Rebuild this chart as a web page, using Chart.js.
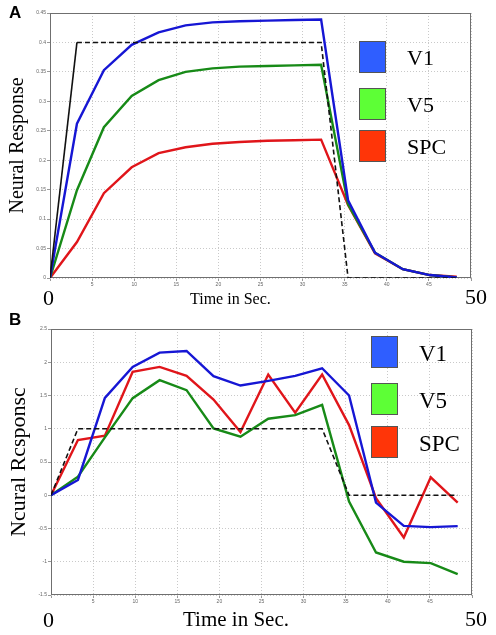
<!DOCTYPE html>
<html>
<head>
<meta charset="utf-8">
<script src="https://cdn.jsdelivr.net/npm/chart.js@4/dist/chart.umd.min.js"></script>
<style>
body { margin: 0; background: #fff; }
#page { position: relative; width: 496px; height: 635px; overflow: hidden; font-family: "Liberation Serif", serif; }
.box { position: absolute; left: 0; width: 496px; }
.t { position: absolute; white-space: nowrap; color: #000; line-height: 1; }
.panel { font-family: "Liberation Sans", Arial, sans-serif; font-weight: bold; font-size: 17px; }
.sw { position: absolute; border: 1px solid #555; box-sizing: border-box; }
</style>
</head>
<body>
<div id="page">
  <div class="box" style="top:0;height:290px"><canvas id="chartA"></canvas></div>
  <div class="box" style="top:300px;height:310px"><canvas id="chartB"></canvas></div>

  <div class="t panel" style="left:9px;top:4px">A</div>
  <div class="t panel" style="left:9px;top:311px">B</div>

  <div class="t" style="left:43px;top:287px;font-size:22px">0</div>
  <div class="t" style="left:190px;top:291px;font-size:16px">Time in Sec.</div>
  <div class="t" style="left:465px;top:286px;font-size:22px">50</div>

  <div class="t" style="left:43px;top:609px;font-size:22px">0</div>
  <div class="t" style="left:183px;top:609px;font-size:21px">Time in Sec.</div>
  <div class="t" style="left:465px;top:608px;font-size:22px">50</div>

  <div id="legA"></div>
  <div id="legB"></div>
</div>
<script>
// time of each sample (s)
var TIME = [0, 3.2, 6.4, 9.7, 12.9, 16.1, 19.3, 22.5, 25.8, 29, 32.2, 35.4, 38.6, 41.9, 45.1, 48.3];
var STIM_TIME = [0, 3.2, 32.2, 35.4, 48.3];
var SERIES = ['V1', 'V5', 'SPC'];

// panel A
var A_V1  = [0, 0.262, 0.353, 0.396, 0.417, 0.429, 0.434, 0.436, 0.437, 0.438, 0.439, 0.132, 0.043, 0.015, 0.005, 0.001];
var A_V5  = [0, 0.149, 0.256, 0.309, 0.336, 0.350, 0.356, 0.359, 0.360, 0.361, 0.362, 0.125, 0.043, 0.015, 0.005, 0.001];
var A_SPC = [0, 0.061, 0.144, 0.188, 0.212, 0.222, 0.228, 0.231, 0.233, 0.234, 0.235, 0.124, 0.042, 0.015, 0.005, 0.002];
var A_STIM = [0, 0.4, 0.4, 0, 0];

// panel B
var B_V1  = [0, 0.23, 1.465, 1.93, 2.145, 2.17, 1.79, 1.65, 1.72, 1.795, 1.91, 1.50, -0.11, -0.46, -0.48, -0.465];
var B_V5  = [0, 0.28, 0.87, 1.46, 1.73, 1.58, 1.005, 0.88, 1.15, 1.205, 1.36, -0.095, -0.86, -1.0, -1.02, -1.185];
var B_SPC = [0, 0.83, 0.895, 1.855, 1.93, 1.795, 1.44, 0.95, 1.815, 1.24, 1.815, 1.055, -0.045, -0.635, 0.27, -0.11];
var B_STIM = [0, 1, 1, 0, 0];

var X_TICKS = [5, 10, 15, 20, 25, 30, 35, 40, 45];

var LINE_COLORS = ['#1616d4', '#178a17', '#e0151a'];
var SWATCH_COLORS = ['#2f5eff', '#5dff36', '#ff3508'];

function pts(xs, ys) {
    var out = [];
    for (var i = 0; i < xs.length; i++) out.push({x: xs[i], y: ys[i]});
    return out;
}

var framePlugin = {
    id: 'frame',
    beforeDatasetsDraw: function (chart) {
        var a = chart.chartArea, c = chart.ctx;
        c.save();
        c.strokeStyle = '#6f6f6f';
        c.lineWidth = 1;
        c.strokeRect(Math.round(a.left) + 0.5, Math.round(a.top) + 0.5, Math.round(a.width) - 1, Math.round(a.height) - 1);
        c.restore();
    }
};

function makeChart(id, series, stim, ymin, ymax, ystep, yTitle, titleSize, pad, axisW, axisH) {
    var ds = [];
    ds.push({
        data: pts(STIM_TIME, stim), borderColor: '#111', borderWidth: 1.6, borderDash: [5, 3],
        pointRadius: 0, tension: 0,
        segment: { borderDash: function (ctx) { return (id == 'chartA' && ctx.p0DataIndex == 0) ? [] : [5, 3]; } }
    });
    for (var i = 0; i < series.length; i++) {
        ds.push({ data: pts(TIME, series[i]), borderColor: LINE_COLORS[i], borderWidth: 2.4, pointRadius: 0, tension: 0 });
    }
    var tickFont = { family: 'Liberation Sans', size: 5 };
    return new Chart(document.getElementById(id), {
        type: 'line',
        data: { datasets: ds },
        plugins: [framePlugin],
        options: {
            responsive: true, maintainAspectRatio: false, animation: false,
            layout: { padding: pad },
            plugins: { legend: { display: false }, tooltip: { enabled: false } },
            scales: {
                x: {
                    type: 'linear', min: 0, max: 50,
                    afterBuildTicks: function (s) { s.ticks = [0].concat(X_TICKS, [50]).map(function (v) { return {value: v}; }); },
                    ticks: { font: tickFont, color: '#666', padding: 1, maxRotation: 0, autoSkip: false,
                             callback: function (v) { return X_TICKS.indexOf(v) >= 0 ? String(v) : ''; } },
                    grid: { color: '#c9c9c9', lineWidth: 1, drawTicks: true, tickLength: 3, tickColor: '#999' },
                    border: { display: false, dash: [1, 2] },
                    afterFit: function (s) { s.height = axisH; }
                },
                y: {
                    min: ymin, max: ymax,
                    ticks: { stepSize: ystep, font: tickFont, color: '#666', padding: 1,
                             callback: function (v) { return String(+v.toFixed(2)); } },
                    grid: { color: '#c9c9c9', lineWidth: 1, drawTicks: true, tickLength: 3, tickColor: '#999' },
                    border: { display: false, dash: [1, 2] },
                    title: { display: true, text: yTitle, color: '#000', padding: {top: 6, bottom: 0},
                             font: { family: 'Liberation Serif', size: titleSize } },
                    afterFit: function (s) { s.width = axisW; }
                }
            }
        }
    });
}

function makeLegend(elId, left, tops, textLeft, fontSize) {
    var el = document.getElementById(elId), html = '';
    for (var i = 0; i < SERIES.length; i++) {
        html += '<div class="sw" style="left:' + left + 'px;top:' + tops[i] + 'px;width:27px;height:32px;background:' + SWATCH_COLORS[i] + '"></div>';
        html += '<div class="t" style="left:' + textLeft + 'px;top:' + (tops[i] + 6) + 'px;font-size:' + fontSize + 'px">' + SERIES[i] + '</div>';
    }
    el.innerHTML = html;
}

makeChart('chartA', [A_V1, A_V5, A_SPC], A_STIM, 0, 0.45, 0.05, 'Neural Response', 20,
          {top: 13, right: 25, left: 0, bottom: 0}, 50, 12);
makeChart('chartB', [B_V1, B_V5, B_SPC], B_STIM, -1.5, 2.5, 0.5, 'Ncural Rcsponsc', 22,
          {top: 29, right: 24, left: 0, bottom: 0}, 51, 15);

makeLegend('legA', 359, [41, 88, 130], 407, 22);
makeLegend('legB', 371, [336, 383, 426], 419, 23);
</script>
</body>
</html>
